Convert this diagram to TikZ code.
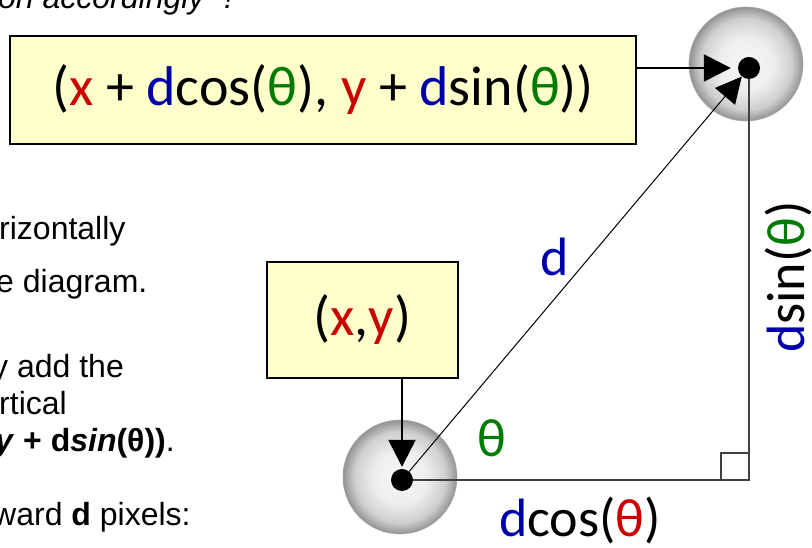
\documentclass[tikz,border=0pt]{standalone}
\usepackage{fontspec}
\usepackage{xcolor}
\usepackage{tikz}
\usetikzlibrary{arrows.meta}
\setmainfont{Liberation Sans}
\newfontfamily\calib{Carlito}
\definecolor{pale}{RGB}{255,255,204}
\definecolor{xred}{RGB}{204,0,0}
\definecolor{xblue}{RGB}{0,0,170}
\definecolor{xgreen}{RGB}{0,122,0}
\definecolor{rule}{RGB}{64,64,64}
\newcommand{\inred}[1]{{\color{xred}#1}}
\newcommand{\inblue}[1]{{\color{xblue}#1}}
\newcommand{\ingreen}[1]{{\color{xgreen}#1}}
\pgfdeclareradialshading{orbshade}{\pgfpoint{0bp}{0bp}}{color(0bp)=(gray!6); color(12bp)=(gray!14); color(20bp)=(gray!38); color(24bp)=(gray!75); color(25bp)=(gray!85); color(50bp)=(gray!85)}

\begin{document}
\begin{tikzpicture}[x=1pt, y=1pt, every node/.style={inner sep=0pt},
      para/.style={anchor=base west, font=\fontsize{32}{36}\selectfont},
      box/.style={draw=black, line width=2.5pt, fill=pale, font=\calib\fontsize{56}{60}\selectfont},
      lab/.style={font=\calib\fontsize{54}{58}\selectfont},
      orb/.style={circle, minimum size=114pt, shading=orbshade, draw=gray!70, line width=0.6pt},
      dot/.style={circle, fill=black, minimum size=22pt},
      ar/.style={-{Triangle[length=27pt, width=27pt]}, line width=2.5pt},
      leg/.style={draw=rule, line width=1.5pt}]
    \useasboundingbox (0,0) rectangle (812,548);
    % text cut off by the frame on the left
    \node[para, font=\itshape\fontsize{32}{36}\selectfont] (t0) at (-2,539) {on accordingly” !};
    \node[para] (l1) at (-1,308) {rizontally};
    \node[para] (l2) at (-4,255) {e diagram.};
    \node[para] (l3) at (-8,170) {y add the};
    \node[para] (l4) at (-1,133) {rtical};
    \node[para] (l5) at (-5,96) {\textbf{\textit{y} + d\textit{sin}(θ))}.};
    \node[para] (l6) at (-7,22) {ward \textbf{d} pixels:};
    % the two balls
    \node[orb] (topball) at (746,484) {};
    \node[orb] (baseball) at (400,71) {};
    \node[dot] (tip) at (749,480) {};
    \node[dot] (origin) at (402,68) {};
    \coordinate (corner) at (749,68);
    \draw[leg, line width=1.2pt, fill=white] ([xshift=-28pt]corner) rectangle ([yshift=27pt]corner);
    \draw[leg] (origin) -- (corner) -- (tip);
    \draw[leg, line width=1pt, -{Triangle[length=26pt, width=26pt]}, draw=black] (origin) -- (tip);
    % boxes
    \node[box, minimum width=626pt, minimum height=108pt] (bigbox) at (323,458)
      {(\inred{x} + \inblue{d}cos(\ingreen{θ}), \inred{y} + \inblue{d}sin(\ingreen{θ}))};
    \node[box, minimum width=191pt, minimum height=116pt] (xybox) at (362.5,228) {(\inred{x},\inred{y})};
    \draw[ar, shorten >=7pt] (bigbox.east |- tip) -- (tip);
    \draw[ar, shorten >=2pt] (xybox.south -| origin) -- (origin);
    % labels
    \node[lab, text=xblue] (dlab) at (555,291) {d};
    \node[lab, text=xgreen] (thlab) at (492,110) {θ};
    \node[lab] (coslab) at (580,27) {\inblue{d}cos(\inred{θ})};
    \node[lab, rotate=90] (sinlab) at (788,271) {\inblue{d}sin(\ingreen{θ})};
\end{tikzpicture}
\end{document}
